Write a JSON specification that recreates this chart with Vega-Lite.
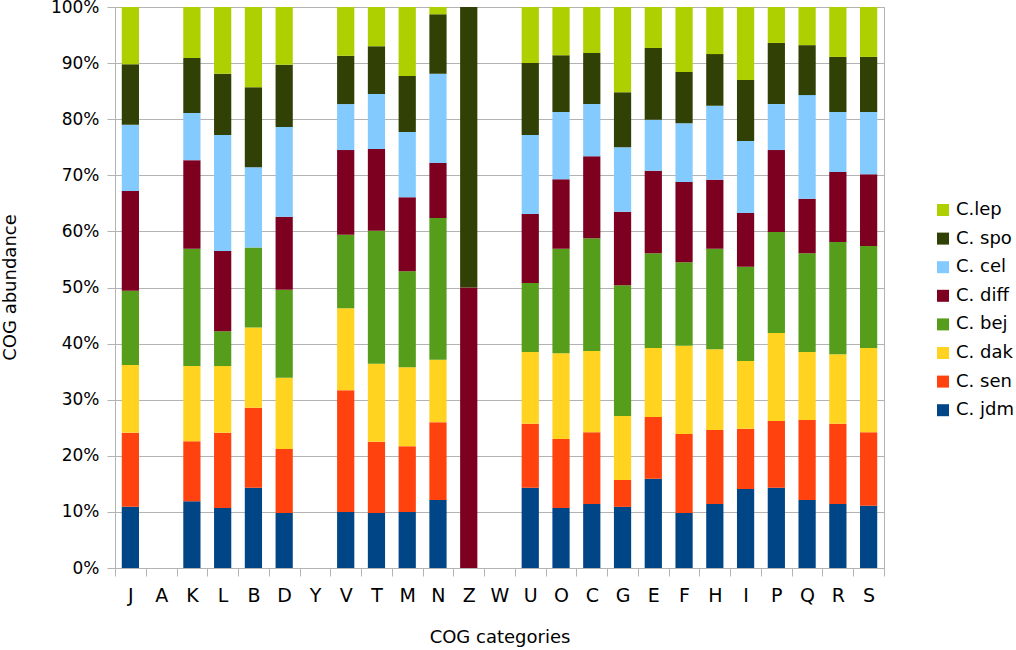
{
  "$schema": "https://vega.github.io/schema/vega-lite/v6.json",
  "width": 769,
  "height": 561,
  "autosize": "none",
  "padding": {"left": 115, "top": 7, "right": 132, "bottom": 82},
  "background": "white",
  "config": {
    "font": "DejaVu Sans",
    "view": {"stroke": "#b3b3b3", "strokeWidth": 1},
    "axis": {"labelColor": "#000000", "titleColor": "#000000", "titleFontWeight": "normal", "domainColor": "#b3b3b3", "tickColor": "#b3b3b3", "gridColor": "#b3b3b3"}
  },
  "data": {"values": [
    {"cog":"J","sp":"C. jdm","v":10.9},{"cog":"J","sp":"C. sen","v":13.2},{"cog":"J","sp":"C. dak","v":12.1},{"cog":"J","sp":"C. bej","v":13.2},{"cog":"J","sp":"C. diff","v":17.8},{"cog":"J","sp":"C. cel","v":11.8},{"cog":"J","sp":"C. spo","v":10.8},{"cog":"J","sp":"C.lep","v":10.2},
    {"cog":"K","sp":"C. jdm","v":11.9},{"cog":"K","sp":"C. sen","v":10.7},{"cog":"K","sp":"C. dak","v":13.4},{"cog":"K","sp":"C. bej","v":20.9},{"cog":"K","sp":"C. diff","v":15.8},{"cog":"K","sp":"C. cel","v":8.4},{"cog":"K","sp":"C. spo","v":9.8},{"cog":"K","sp":"C.lep","v":9.1},
    {"cog":"L","sp":"C. jdm","v":10.7},{"cog":"L","sp":"C. sen","v":13.4},{"cog":"L","sp":"C. dak","v":11.9},{"cog":"L","sp":"C. bej","v":6.2},{"cog":"L","sp":"C. diff","v":14.3},{"cog":"L","sp":"C. cel","v":20.7},{"cog":"L","sp":"C. spo","v":10.9},{"cog":"L","sp":"C.lep","v":11.9},
    {"cog":"B","sp":"C. jdm","v":14.3},{"cog":"B","sp":"C. sen","v":14.3},{"cog":"B","sp":"C. dak","v":14.3},{"cog":"B","sp":"C. bej","v":14.3},{"cog":"B","sp":"C. diff","v":0},{"cog":"B","sp":"C. cel","v":14.3},{"cog":"B","sp":"C. spo","v":14.3},{"cog":"B","sp":"C.lep","v":14.3},
    {"cog":"D","sp":"C. jdm","v":9.8},{"cog":"D","sp":"C. sen","v":11.4},{"cog":"D","sp":"C. dak","v":12.7},{"cog":"D","sp":"C. bej","v":15.7},{"cog":"D","sp":"C. diff","v":13.0},{"cog":"D","sp":"C. cel","v":16.0},{"cog":"D","sp":"C. spo","v":11.1},{"cog":"D","sp":"C.lep","v":10.3},
    {"cog":"V","sp":"C. jdm","v":10.0},{"cog":"V","sp":"C. sen","v":21.7},{"cog":"V","sp":"C. dak","v":14.6},{"cog":"V","sp":"C. bej","v":13.1},{"cog":"V","sp":"C. diff","v":15.1},{"cog":"V","sp":"C. cel","v":8.2},{"cog":"V","sp":"C. spo","v":8.6},{"cog":"V","sp":"C.lep","v":8.7},
    {"cog":"T","sp":"C. jdm","v":9.8},{"cog":"T","sp":"C. sen","v":12.7},{"cog":"T","sp":"C. dak","v":13.9},{"cog":"T","sp":"C. bej","v":23.7},{"cog":"T","sp":"C. diff","v":14.6},{"cog":"T","sp":"C. cel","v":9.8},{"cog":"T","sp":"C. spo","v":8.5},{"cog":"T","sp":"C.lep","v":7.0},
    {"cog":"M","sp":"C. jdm","v":10.0},{"cog":"M","sp":"C. sen","v":11.7},{"cog":"M","sp":"C. dak","v":14.1},{"cog":"M","sp":"C. bej","v":17.1},{"cog":"M","sp":"C. diff","v":13.2},{"cog":"M","sp":"C. cel","v":11.6},{"cog":"M","sp":"C. spo","v":10.0},{"cog":"M","sp":"C.lep","v":12.3},
    {"cog":"N","sp":"C. jdm","v":12.1},{"cog":"N","sp":"C. sen","v":13.9},{"cog":"N","sp":"C. dak","v":11.1},{"cog":"N","sp":"C. bej","v":25.3},{"cog":"N","sp":"C. diff","v":9.8},{"cog":"N","sp":"C. cel","v":15.9},{"cog":"N","sp":"C. spo","v":10.6},{"cog":"N","sp":"C.lep","v":1.3},
    {"cog":"Z","sp":"C. diff","v":50},{"cog":"Z","sp":"C. spo","v":50},
    {"cog":"U","sp":"C. jdm","v":14.3},{"cog":"U","sp":"C. sen","v":11.4},{"cog":"U","sp":"C. dak","v":12.8},{"cog":"U","sp":"C. bej","v":12.3},{"cog":"U","sp":"C. diff","v":12.3},{"cog":"U","sp":"C. cel","v":14.1},{"cog":"U","sp":"C. spo","v":12.8},{"cog":"U","sp":"C.lep","v":10.0},
    {"cog":"O","sp":"C. jdm","v":10.7},{"cog":"O","sp":"C. sen","v":12.3},{"cog":"O","sp":"C. dak","v":15.3},{"cog":"O","sp":"C. bej","v":18.6},{"cog":"O","sp":"C. diff","v":12.4},{"cog":"O","sp":"C. cel","v":12.0},{"cog":"O","sp":"C. spo","v":10.1},{"cog":"O","sp":"C.lep","v":8.6},
    {"cog":"C","sp":"C. jdm","v":11.4},{"cog":"C","sp":"C. sen","v":12.8},{"cog":"C","sp":"C. dak","v":14.5},{"cog":"C","sp":"C. bej","v":20.1},{"cog":"C","sp":"C. diff","v":14.6},{"cog":"C","sp":"C. cel","v":9.3},{"cog":"C","sp":"C. spo","v":9.1},{"cog":"C","sp":"C.lep","v":8.2},
    {"cog":"G","sp":"C. jdm","v":10.9},{"cog":"G","sp":"C. sen","v":4.8},{"cog":"G","sp":"C. dak","v":11.4},{"cog":"G","sp":"C. bej","v":23.3},{"cog":"G","sp":"C. diff","v":13.1},{"cog":"G","sp":"C. cel","v":11.5},{"cog":"G","sp":"C. spo","v":9.8},{"cog":"G","sp":"C.lep","v":15.2},
    {"cog":"E","sp":"C. jdm","v":15.9},{"cog":"E","sp":"C. sen","v":11.0},{"cog":"E","sp":"C. dak","v":12.3},{"cog":"E","sp":"C. bej","v":16.9},{"cog":"E","sp":"C. diff","v":14.7},{"cog":"E","sp":"C. cel","v":9.1},{"cog":"E","sp":"C. spo","v":12.8},{"cog":"E","sp":"C.lep","v":7.3},
    {"cog":"F","sp":"C. jdm","v":9.8},{"cog":"F","sp":"C. sen","v":14.1},{"cog":"F","sp":"C. dak","v":15.7},{"cog":"F","sp":"C. bej","v":14.9},{"cog":"F","sp":"C. diff","v":14.3},{"cog":"F","sp":"C. cel","v":10.5},{"cog":"F","sp":"C. spo","v":9.1},{"cog":"F","sp":"C.lep","v":11.6},
    {"cog":"H","sp":"C. jdm","v":11.4},{"cog":"H","sp":"C. sen","v":13.2},{"cog":"H","sp":"C. dak","v":14.4},{"cog":"H","sp":"C. bej","v":17.9},{"cog":"H","sp":"C. diff","v":12.3},{"cog":"H","sp":"C. cel","v":13.2},{"cog":"H","sp":"C. spo","v":9.2},{"cog":"H","sp":"C.lep","v":8.4},
    {"cog":"I","sp":"C. jdm","v":14.1},{"cog":"I","sp":"C. sen","v":10.7},{"cog":"I","sp":"C. dak","v":12.1},{"cog":"I","sp":"C. bej","v":16.8},{"cog":"I","sp":"C. diff","v":9.6},{"cog":"I","sp":"C. cel","v":12.8},{"cog":"I","sp":"C. spo","v":10.9},{"cog":"I","sp":"C.lep","v":13.0},
    {"cog":"P","sp":"C. jdm","v":14.3},{"cog":"P","sp":"C. sen","v":11.9},{"cog":"P","sp":"C. dak","v":15.7},{"cog":"P","sp":"C. bej","v":18.0},{"cog":"P","sp":"C. diff","v":14.6},{"cog":"P","sp":"C. cel","v":8.2},{"cog":"P","sp":"C. spo","v":10.9},{"cog":"P","sp":"C.lep","v":6.4},
    {"cog":"Q","sp":"C. jdm","v":12.1},{"cog":"Q","sp":"C. sen","v":14.3},{"cog":"Q","sp":"C. dak","v":12.1},{"cog":"Q","sp":"C. bej","v":17.6},{"cog":"Q","sp":"C. diff","v":9.7},{"cog":"Q","sp":"C. cel","v":18.5},{"cog":"Q","sp":"C. spo","v":8.9},{"cog":"Q","sp":"C.lep","v":6.8},
    {"cog":"R","sp":"C. jdm","v":11.4},{"cog":"R","sp":"C. sen","v":14.3},{"cog":"R","sp":"C. dak","v":12.4},{"cog":"R","sp":"C. bej","v":20.0},{"cog":"R","sp":"C. diff","v":12.5},{"cog":"R","sp":"C. cel","v":10.7},{"cog":"R","sp":"C. spo","v":9.8},{"cog":"R","sp":"C.lep","v":8.9},
    {"cog":"S","sp":"C. jdm","v":11.1},{"cog":"S","sp":"C. sen","v":13.1},{"cog":"S","sp":"C. dak","v":15.0},{"cog":"S","sp":"C. bej","v":18.2},{"cog":"S","sp":"C. diff","v":12.8},{"cog":"S","sp":"C. cel","v":11.1},{"cog":"S","sp":"C. spo","v":9.8},{"cog":"S","sp":"C.lep","v":8.9}
  ]},
  "transform": [
    {"lookup": "sp", "from": {"data": {"values": [
      {"sp":"C. jdm","rank":1},{"sp":"C. sen","rank":2},{"sp":"C. dak","rank":3},{"sp":"C. bej","rank":4},
      {"sp":"C. diff","rank":5},{"sp":"C. cel","rank":6},{"sp":"C. spo","rank":7},{"sp":"C.lep","rank":8}
    ]}, "key": "sp", "fields": ["rank"]}}
  ],
  "mark": {"type": "bar", "width": {"band": 0.56}},
  "encoding": {
    "x": {
      "field": "cog", "type": "nominal",
      "scale": {"domain": ["J","A","K","L","B","D","Y","V","T","M","N","Z","W","U","O","C","G","E","F","H","I","P","Q","R","S"], "paddingInner": 0, "paddingOuter": 0},
      "axis": {"title": "COG categories", "labelAngle": 0, "labelFontSize": 19, "labelPadding": 10, "tickSize": 8, "tickBand": "extent", "titleFontSize": 18, "titleY": 69, "titleBaseline": "middle", "domainColor": "#b3b3b3"}
    },
    "y": {
      "field": "v", "type": "quantitative", "stack": "normalize",
      "scale": {"domain": [0, 1]},
      "axis": {"title": "COG abundance", "format": ".0%", "values": [0,0.1,0.2,0.3,0.4,0.5,0.6,0.7,0.8,0.9,1], "labelOverlap": false, "labelFontSize": 17, "labelPadding": 8, "tickSize": 8, "titleFontSize": 18, "titleX": -105, "titleY": 280, "titleAlign": "center", "titleBaseline": "middle", "grid": true}
    },
    "order": {"field": "rank", "type": "quantitative", "sort": "ascending"},
    "color": {
      "field": "sp", "type": "nominal",
      "scale": {"domain": ["C.lep","C. spo","C. cel","C. diff","C. bej","C. dak","C. sen","C. jdm"], "range": ["#aecf00","#314004","#83caff","#7e0021","#579d1c","#ffd320","#ff420e","#004586"]},
      "legend": {"title": null, "orient": "none", "legendX": 819, "legendY": 194, "padding": 0, "symbolType": "square", "symbolSize": 144, "symbolStrokeWidth": 0, "symbolOpacity": 1, "labelFontSize": 18, "labelColor": "#000000", "labelOffset": 4, "rowPadding": 10.6}
    }
  }
}
